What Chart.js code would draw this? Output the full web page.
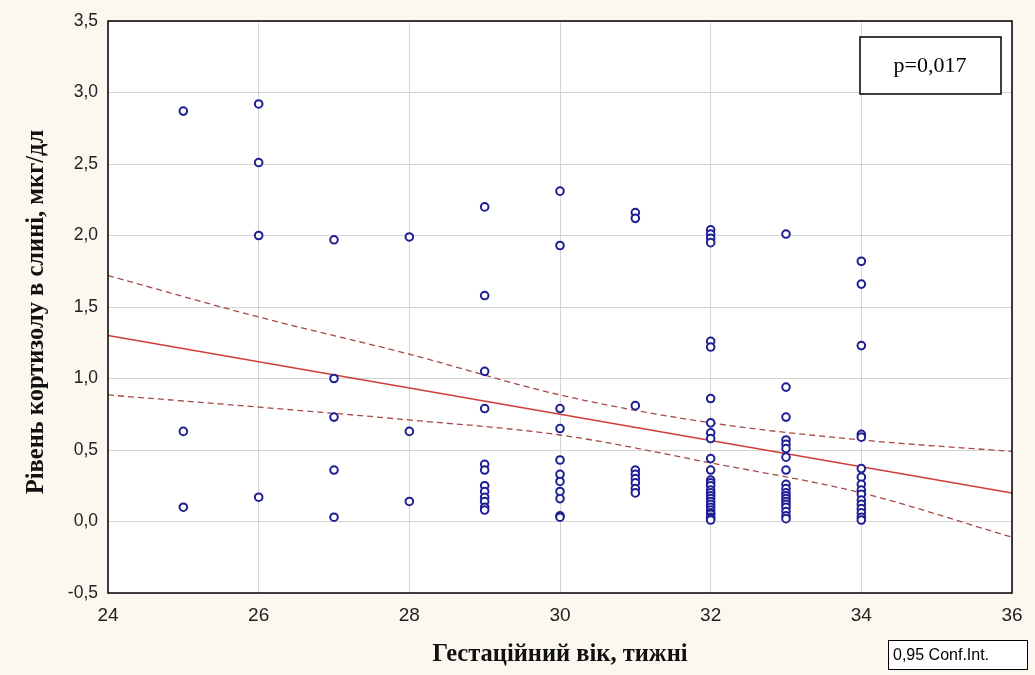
<!DOCTYPE html>
<html>
<head>
<meta charset="utf-8">
<script src="https://cdn.jsdelivr.net/npm/chart.js@4"></script>
<style>
  html, body { margin: 0; padding: 0; background: #fcf8f0; }
  #wrap { width: 1035px; height: 675px; }
</style>
</head>
<body>
<div id="wrap"><canvas id="myChart" width="1035" height="675"></canvas></div>
<script>
// Гестаційний вік (тижні) та рівень кортизолу в слині (мкг/дл)
const week25 = [2.87, 0.63, 0.10];
const week26 = [2.92, 2.51, 2.00, 0.17];
const week27 = [1.97, 1.00, 0.73, 0.36, 0.03];
const week28 = [1.99, 0.63, 0.14];
const week29 = [2.20, 1.58, 1.05, 0.79, 0.40, 0.36, 0.25, 0.21, 0.17, 0.14, 0.10, 0.08];
const week30 = [2.31, 1.93, 0.79, 0.65, 0.43, 0.33, 0.28, 0.21, 0.16, 0.04, 0.03];
const week31 = [2.16, 2.12, 0.81, 0.36, 0.33, 0.30, 0.27, 0.23, 0.20];
const week32 = [2.04, 2.01, 1.98, 1.95, 1.26, 1.22, 0.86, 0.69, 0.62, 0.58, 0.44, 0.36,
                0.29, 0.27, 0.25, 0.22, 0.20, 0.18, 0.16, 0.14, 0.12, 0.10, 0.08, 0.06,
                0.05, 0.03, 0.02, 0.01];
const week33 = [2.01, 0.94, 0.73, 0.57, 0.54, 0.51, 0.45, 0.36, 0.26, 0.23, 0.20, 0.18,
                0.16, 0.14, 0.12, 0.10, 0.07, 0.04, 0.02];
const week34 = [1.82, 1.66, 1.23, 0.61, 0.59, 0.37, 0.31, 0.26, 0.22, 0.19, 0.15, 0.12,
                0.09, 0.06, 0.03, 0.01];

const semanas = [25, 26, 27, 28, 29, 30, 31, 32, 33, 34];
const valoresPorSemana = [week25, week26, week27, week28, week29, week30, week31, week32, week33, week34];

// Лінія регресії та межі довірчого інтервалу 0,95
const fitX = [24, 36];
const fitY = [1.30, 0.20];
const ciX = [24, 26, 28, 30, 32, 34, 36];
const ciUpper = [1.72, 1.43, 1.17, 0.885, 0.69, 0.57, 0.49];
const ciLower = [0.885, 0.80, 0.71, 0.605, 0.41, 0.20, -0.11];

const yTicks = [-0.5, 0, 0.5, 1, 1.5, 2, 2.5, 3, 3.5];
const xTicks = [24, 26, 28, 30, 32, 34, 36];

const puntos = [];
semanas.forEach((s, i) => valoresPorSemana[i].forEach(v => puntos.push({ x: s, y: v })));
const toXY = (xs, ys) => xs.map((x, i) => ({ x: x, y: ys[i] }));

const fondo = {
    id: 'fondo',
    beforeDraw(chart) {
        const { ctx, chartArea: a } = chart;
        ctx.save();
        ctx.fillStyle = '#fcf8f0';
        ctx.fillRect(0, 0, chart.width, chart.height);
        ctx.fillStyle = '#ffffff';
        ctx.fillRect(a.left, a.top, a.right - a.left, a.bottom - a.top);
        ctx.restore();
    },
    afterDraw(chart) {
        const { ctx, chartArea: a } = chart;
        ctx.save();
        // рамка області графіка
        ctx.strokeStyle = '#000';
        ctx.lineWidth = 1.5;
        ctx.strokeRect(a.left, a.top, a.right - a.left, a.bottom - a.top);

        // назви осей
        ctx.fillStyle = '#111';
        ctx.font = 'bold 24.5px "Liberation Serif", "DejaVu Serif", serif';
        ctx.textAlign = 'center';
        ctx.textBaseline = 'middle';
        ctx.fillText('Гестаційний вік, тижні', (a.left + a.right) / 2, 655);
        ctx.save();
        ctx.translate(37, 312);
        ctx.rotate(-Math.PI / 2);
        ctx.fillText('Рівень кортизолу в слині, мкг/дл', 0, 0);
        ctx.restore();

        // p-значення
        ctx.fillStyle = '#fff';
        ctx.fillRect(860, 37, 141, 57);
        ctx.strokeStyle = '#000';
        ctx.lineWidth = 1.5;
        ctx.strokeRect(860, 37, 141, 57);
        ctx.fillStyle = '#000';
        ctx.font = '22px "Liberation Serif", serif';
        ctx.fillText('p=0,017', 930, 66);

        // підпис довірчого інтервалу
        ctx.fillStyle = '#fff';
        ctx.fillRect(888, 640, 139, 29);
        ctx.lineWidth = 1;
        ctx.strokeRect(888.5, 640.5, 139, 29);
        ctx.fillStyle = '#000';
        ctx.font = '16px "Liberation Sans Narrow", "Liberation Sans", sans-serif';
        ctx.textAlign = 'left';
        ctx.fillText('0,95 Conf.Int.', 893, 656);
        ctx.restore();
    }
};

const ctx = document.getElementById('myChart').getContext('2d');
new Chart(ctx, {
    type: 'scatter',
    data: {
        datasets: [
            {
                label: 'Кортизол',
                data: puntos,
                pointRadius: 3.8,
                pointBorderWidth: 2,
                pointBorderColor: '#1e1e94',
                pointBackgroundColor: '#ffffff',
                order: 0
            },
            {
                label: 'Регресія',
                data: toXY(fitX, fitY),
                showLine: true,
                borderColor: '#d23a3a',
                borderWidth: 1.5,
                pointRadius: 0,
                order: 1
            },
            {
                label: 'Верхня межа',
                data: toXY(ciX, ciUpper),
                showLine: true,
                borderColor: '#a84848',
                borderWidth: 1.3,
                borderDash: [6, 4],
                cubicInterpolationMode: 'monotone',
                pointRadius: 0,
                order: 2
            },
            {
                label: 'Нижня межа',
                data: toXY(ciX, ciLower),
                showLine: true,
                borderColor: '#a84848',
                borderWidth: 1.3,
                borderDash: [6, 4],
                cubicInterpolationMode: 'monotone',
                pointRadius: 0,
                order: 2
            }
        ]
    },
    options: {
        responsive: false,
        animation: false,
        layout: { padding: { top: 21, right: 23, left: 0, bottom: 0 } },
        plugins: { legend: { display: false }, tooltip: { enabled: false } },
        scales: {
            x: {
                type: 'linear',
                min: 24,
                max: 36,
                afterBuildTicks: s => { s.ticks = xTicks.map(v => ({ value: v })); },
                afterFit: s => { s.height = 82; },
                grid: { color: '#d4d4d4', drawTicks: false },
                border: { display: false },
                ticks: {
                    padding: 11,
                    color: '#222',
                    font: { family: '"Liberation Sans Narrow", "Liberation Sans", sans-serif', size: 19 },
                    callback: v => String(v)
                }
            },
            y: {
                min: -0.5,
                max: 3.5,
                afterBuildTicks: s => { s.ticks = yTicks.map(v => ({ value: v })); },
                afterFit: s => { s.width = 108; },
                grid: { color: '#d4d4d4', drawTicks: false },
                border: { display: false },
                ticks: {
                    padding: 10,
                    color: '#222',
                    font: { family: '"Liberation Sans", Arial, sans-serif', size: 17.5 },
                    callback: v => v.toFixed(1).replace('.', ',')
                }
            }
        }
    },
    plugins: [fondo]
});
</script>
</body>
</html>
